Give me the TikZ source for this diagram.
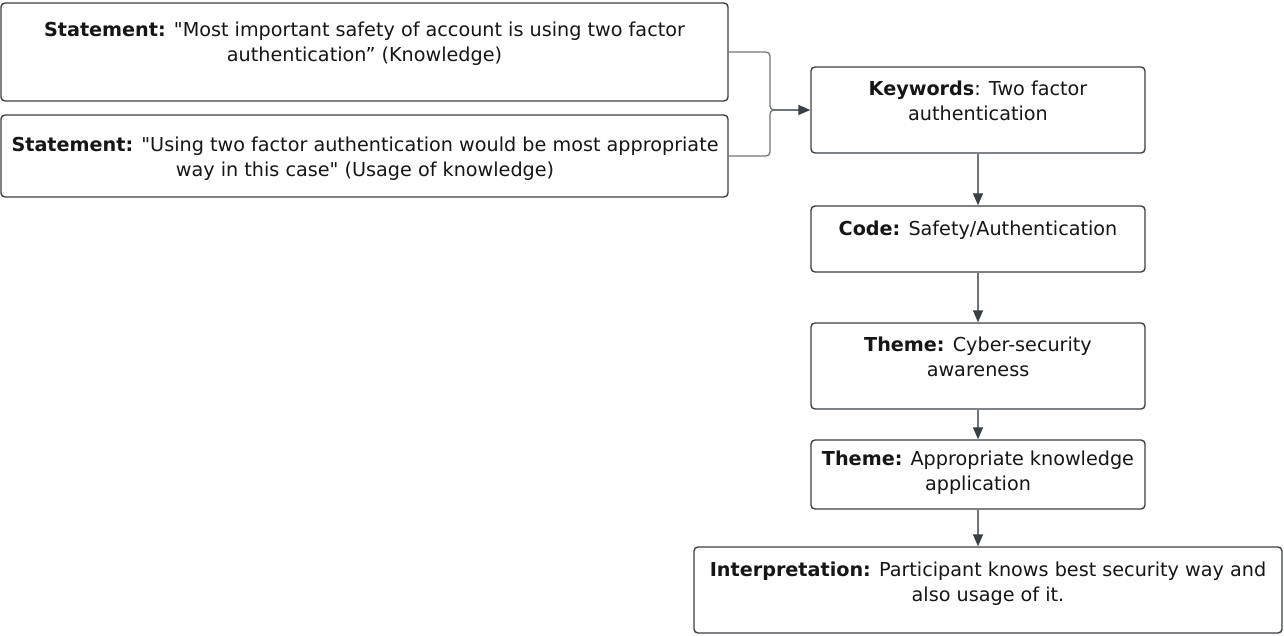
\documentclass[tikz,border=0pt]{standalone}
\usepackage{fontspec}
\setmainfont{DejaVu Sans}
\usetikzlibrary{arrows.meta,fit}
\definecolor{boxline}{HTML}{3B4045}
\definecolor{arrline}{HTML}{6F7479}
\definecolor{tipcol}{HTML}{3B4045}
\definecolor{textcol}{HTML}{161616}
\newcommand{\tstrut}{\rule{0pt}{16pt}}
\newcommand{\sq}{\textquotedbl}
\begin{document}
\begin{tikzpicture}[x=1pt,y=-1pt,
  box/.style={draw=boxline, line width=1.4pt, rounded corners=4pt, inner sep=0pt, fill=white},
  txt/.style={align=center, inner sep=0pt, anchor=north, text=textcol,
              font=\fontsize{19.2}{24.8}\selectfont},
  conn/.style={draw=arrline, line width=1.3pt, rounded corners=4pt},
  arr/.style={draw=arrline, line width=1.3pt,
              -{Triangle[length=12pt,width=10pt,color=tipcol]}}]
\useasboundingbox (0,0) rectangle (1284,635);
% boxes
\node[box, fit={(1,3)(728,101)}] (s1) {};
\node[box, fit={(1,115)(728,197)}] (s2) {};
\node[box, fit={(811,67)(1145,153)}] (k) {};
\node[box, fit={(811,206)(1145,272)}] (c) {};
\node[box, fit={(811,323)(1145,409)}] (t1) {};
\node[box, fit={(811,440)(1145,509)}] (t2) {};
\node[box, fit={(694,547)(1282,633)}] (i) {};
% texts
\node[txt] (s1t) at (364.5,20.7) {\tstrut\textbf{Statement:} \sq Most important safety of account is using two factor\\authentication” (Knowledge)};
\node[txt] (s2t) at (365,135.7) {\tstrut\textbf{Statement:} \sq Using two factor authentication would be most appropriate\\way in this case\sq{} (Usage of knowledge)};
\node[txt] (kt) at (978,79) {\tstrut\textbf{Keywords}: Two factor\\authentication};
\node[txt] (ct) at (978,219) {\tstrut\textbf{Code:} Safety/Authentication};
\node[txt] (t1t) at (978,335.7) {\tstrut\textbf{Theme:} Cyber-security\\awareness};
\node[txt] (t2t) at (978,449.7) {\tstrut\textbf{Theme:} Appropriate knowledge\\application};
\node[txt] (it) at (988,560) {\tstrut\textbf{Interpretation:} Participant knows best security way and\\also usage of it.};
% connectors
\coordinate (j) at (774,110);
\coordinate (jt) at (770,52);
\coordinate (jb) at (770,156);
\draw[conn] (s1.east) -- (jt) -- (770,110) -- (j);
\draw[conn] (s2.east) -- (jb) -- (770,110) -- (j);
\draw[arr] (j) -- (k.west);
\draw[arr] (k.south) -- (c.north);
\draw[arr] (c.south) -- (t1.north);
\draw[arr] (t1.south) -- (t2.north);
\draw[arr] (t2.south) -- (i.north -| t2.south);
\end{tikzpicture}
\end{document}
